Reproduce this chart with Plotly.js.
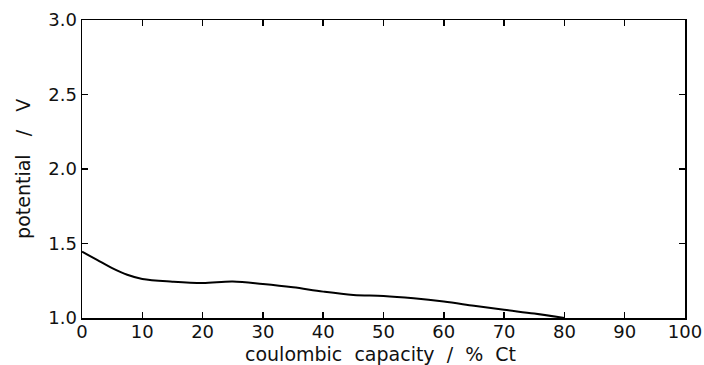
<!DOCTYPE html>
<html>
<head>
<meta charset="utf-8">
<script src="https://cdn.plot.ly/plotly-3.0.1.min.js"></script>
<style>html,body{margin:0;padding:0;background:#fff;}#chart{width:704px;height:365px;}</style>
</head>
<body>
<div id="chart"></div>
<script>
const capacity = [0, 2.5, 5, 7.5, 10, 15, 20, 25, 30, 35, 40, 45, 50, 55, 60, 65, 70, 75, 80];
const potential = [1.445, 1.39, 1.335, 1.29, 1.262, 1.244, 1.235, 1.245, 1.228, 1.206, 1.177, 1.155, 1.148, 1.132, 1.11, 1.082, 1.055, 1.03, 1.0];
const xTicks = [0, 10, 20, 30, 40, 50, 60, 70, 80, 90, 100];
const yTicks = [1.0, 1.5, 2.0, 2.5, 3.0];
const xTitle = 'coulombic  capacity  /  %  Ct';
const yTitle = 'potential   /   V';

const tickFont = {family: 'DejaVu Sans, sans-serif', size: 18, color: '#111'};
const titleFont = {family: 'DejaVu Sans, sans-serif', size: 19, color: '#111'};

Plotly.newPlot('chart', [{
  x: capacity, y: potential, mode: 'lines', type: 'scatter',
  line: {color: '#000', width: 2, shape: 'spline', smoothing: 1},
  hoverinfo: 'skip'
}], {
  width: 704, height: 365,
  margin: {l: 82, r: 19, t: 20, b: 47},
  paper_bgcolor: '#fff', plot_bgcolor: '#fff',
  showlegend: false,
  font: tickFont,
  xaxis: {
    range: [0, 100], tickvals: xTicks, ticktext: xTicks.map(String),
    ticks: 'inside', ticklen: 6, tickwidth: 1.5, tickcolor: '#000',
    showline: true, linecolor: '#000', linewidth: 1.5, mirror: 'ticks',
    showgrid: false, zeroline: false, ticklabelstandoff: -3,
    tickfont: tickFont
  },
  yaxis: {
    range: [1.0, 3.0], tickvals: yTicks, ticktext: yTicks.map(v => v.toFixed(1)),
    ticks: 'inside', ticklen: 6, tickwidth: 1.5, tickcolor: '#000',
    showline: true, linecolor: '#000', linewidth: 1.5, mirror: 'ticks',
    showgrid: false, zeroline: false,
    tickfont: tickFont
  },
  annotations: [
    {text: xTitle, xref: 'paper', yref: 'paper', x: 0.495, y: -0.16,
     xanchor: 'center', yanchor: 'bottom', showarrow: false, font: titleFont,
     borderpad: 0},
    {text: yTitle, xref: 'paper', yref: 'paper', x: -0.098, y: 0.5, textangle: -90,
     xanchor: 'center', yanchor: 'middle', showarrow: false, font: titleFont}
  ]
}, {staticPlot: true, displayModeBar: false});
</script>
</body>
</html>
